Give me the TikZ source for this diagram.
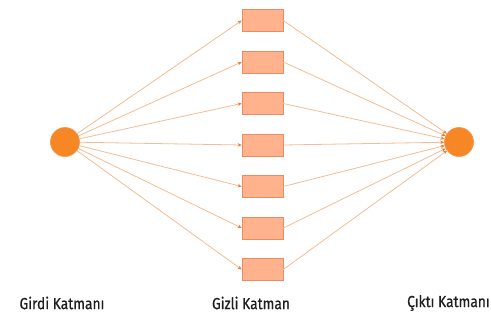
\documentclass[tikz,border=0pt]{standalone}
\usepackage{fontspec}
\setmainfont{Fira Sans}[FakeStretch=0.86, FakeBold=0.6]
\usetikzlibrary{arrows.meta}
\definecolor{neuron}{RGB}{247,134,37}
\definecolor{neuronedge}{RGB}{240,150,80}
\definecolor{cellfill}{RGB}{255,178,140}
\definecolor{celledge}{RGB}{232,140,100}
\definecolor{link}{RGB}{243,188,148}
\definecolor{tip}{RGB}{240,120,40}
\definecolor{caption}{RGB}{30,30,30}
\tikzset{
  neuronnode/.style={circle, minimum size=29pt, inner sep=0pt, fill=neuron, draw=neuronedge, line width=0.6pt},
  cellnode/.style={rectangle, minimum width=41pt, minimum height=22pt, inner sep=0pt, fill=cellfill, draw=celledge, line width=0.6pt},
  linkline/.style={draw=link, line width=0.8pt, -{Stealth[length=4pt,width=3.5pt,color=tip]}},
  layerlabel/.style={font=\fontsize{16}{18}\selectfont, text=caption, inner sep=0pt}
}
\begin{document}
\begin{tikzpicture}[x=1pt,y=-1pt]
  \useasboundingbox (0,0) rectangle (491,326);
  % input and output neurons
  \node[neuronnode] (in) at (65,142) {};
  \node[neuronnode] (out) at (459,142) {};
  % hidden layer cells
  \foreach \k in {0,...,6} {
    \node[cellnode] (h\k) at (262.5,20.5+41.5*\k) {};
  }
  % connections
  \foreach \k in {0,...,6} {
    \draw[linkline] (in) -- (h\k.west);
    \draw[linkline] (h\k.east) -- (out);
  }
  % layer captions
  \node[layerlabel] (lin) at (62,303) {Girdi Katmanı};
  \node[layerlabel] (lhid) at (251,303) {Gizli Katman};
  \node[layerlabel, anchor=east] (lout) at (490,303) {Çıktı Katmanı};
\end{tikzpicture}
\end{document}
